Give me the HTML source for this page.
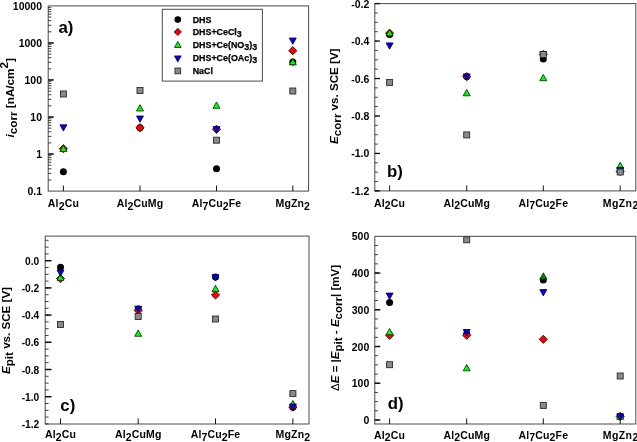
<!DOCTYPE html>
<html><head><meta charset="utf-8"><title>chart</title>
<style>
html,body{margin:0;padding:0;background:#fff;}
body{width:637px;height:442px;overflow:hidden;font-family:"Liberation Sans", sans-serif;}
svg{display:block;font-family:"Liberation Sans", sans-serif;will-change:transform;}
svg text{fill:#000;}
</style></head><body>
<svg width="637" height="442" viewBox="0 0 637 442">
<rect x="0" y="0" width="637" height="442" fill="#fff"/>
<rect x="48.2" y="5.9" width="260.40000000000003" height="185.2" fill="none" stroke="#4a4a4a" stroke-width="1"/>
<line x1="48.2" y1="179.95" x2="51.400000000000006" y2="179.95" stroke="#111" stroke-width="0.8"/>
<line x1="48.2" y1="173.43" x2="51.400000000000006" y2="173.43" stroke="#111" stroke-width="0.8"/>
<line x1="48.2" y1="168.80" x2="51.400000000000006" y2="168.80" stroke="#111" stroke-width="0.8"/>
<line x1="48.2" y1="165.21" x2="51.400000000000006" y2="165.21" stroke="#111" stroke-width="0.8"/>
<line x1="48.2" y1="162.28" x2="51.400000000000006" y2="162.28" stroke="#111" stroke-width="0.8"/>
<line x1="48.2" y1="159.80" x2="51.400000000000006" y2="159.80" stroke="#111" stroke-width="0.8"/>
<line x1="48.2" y1="157.65" x2="51.400000000000006" y2="157.65" stroke="#111" stroke-width="0.8"/>
<line x1="48.2" y1="155.75" x2="51.400000000000006" y2="155.75" stroke="#111" stroke-width="0.8"/>
<line x1="48.2" y1="142.91" x2="51.400000000000006" y2="142.91" stroke="#111" stroke-width="0.8"/>
<line x1="48.2" y1="136.39" x2="51.400000000000006" y2="136.39" stroke="#111" stroke-width="0.8"/>
<line x1="48.2" y1="131.76" x2="51.400000000000006" y2="131.76" stroke="#111" stroke-width="0.8"/>
<line x1="48.2" y1="128.17" x2="51.400000000000006" y2="128.17" stroke="#111" stroke-width="0.8"/>
<line x1="48.2" y1="125.24" x2="51.400000000000006" y2="125.24" stroke="#111" stroke-width="0.8"/>
<line x1="48.2" y1="122.76" x2="51.400000000000006" y2="122.76" stroke="#111" stroke-width="0.8"/>
<line x1="48.2" y1="120.61" x2="51.400000000000006" y2="120.61" stroke="#111" stroke-width="0.8"/>
<line x1="48.2" y1="118.71" x2="51.400000000000006" y2="118.71" stroke="#111" stroke-width="0.8"/>
<line x1="48.2" y1="105.87" x2="51.400000000000006" y2="105.87" stroke="#111" stroke-width="0.8"/>
<line x1="48.2" y1="99.35" x2="51.400000000000006" y2="99.35" stroke="#111" stroke-width="0.8"/>
<line x1="48.2" y1="94.72" x2="51.400000000000006" y2="94.72" stroke="#111" stroke-width="0.8"/>
<line x1="48.2" y1="91.13" x2="51.400000000000006" y2="91.13" stroke="#111" stroke-width="0.8"/>
<line x1="48.2" y1="88.20" x2="51.400000000000006" y2="88.20" stroke="#111" stroke-width="0.8"/>
<line x1="48.2" y1="85.72" x2="51.400000000000006" y2="85.72" stroke="#111" stroke-width="0.8"/>
<line x1="48.2" y1="83.57" x2="51.400000000000006" y2="83.57" stroke="#111" stroke-width="0.8"/>
<line x1="48.2" y1="81.67" x2="51.400000000000006" y2="81.67" stroke="#111" stroke-width="0.8"/>
<line x1="48.2" y1="68.83" x2="51.400000000000006" y2="68.83" stroke="#111" stroke-width="0.8"/>
<line x1="48.2" y1="62.31" x2="51.400000000000006" y2="62.31" stroke="#111" stroke-width="0.8"/>
<line x1="48.2" y1="57.68" x2="51.400000000000006" y2="57.68" stroke="#111" stroke-width="0.8"/>
<line x1="48.2" y1="54.09" x2="51.400000000000006" y2="54.09" stroke="#111" stroke-width="0.8"/>
<line x1="48.2" y1="51.16" x2="51.400000000000006" y2="51.16" stroke="#111" stroke-width="0.8"/>
<line x1="48.2" y1="48.68" x2="51.400000000000006" y2="48.68" stroke="#111" stroke-width="0.8"/>
<line x1="48.2" y1="46.53" x2="51.400000000000006" y2="46.53" stroke="#111" stroke-width="0.8"/>
<line x1="48.2" y1="44.63" x2="51.400000000000006" y2="44.63" stroke="#111" stroke-width="0.8"/>
<line x1="48.2" y1="31.79" x2="51.400000000000006" y2="31.79" stroke="#111" stroke-width="0.8"/>
<line x1="48.2" y1="25.27" x2="51.400000000000006" y2="25.27" stroke="#111" stroke-width="0.8"/>
<line x1="48.2" y1="20.64" x2="51.400000000000006" y2="20.64" stroke="#111" stroke-width="0.8"/>
<line x1="48.2" y1="17.05" x2="51.400000000000006" y2="17.05" stroke="#111" stroke-width="0.8"/>
<line x1="48.2" y1="14.12" x2="51.400000000000006" y2="14.12" stroke="#111" stroke-width="0.8"/>
<line x1="48.2" y1="11.64" x2="51.400000000000006" y2="11.64" stroke="#111" stroke-width="0.8"/>
<line x1="48.2" y1="9.49" x2="51.400000000000006" y2="9.49" stroke="#111" stroke-width="0.8"/>
<line x1="48.2" y1="7.59" x2="51.400000000000006" y2="7.59" stroke="#111" stroke-width="0.8"/>
<line x1="48.2" y1="154.06" x2="53.7" y2="154.06" stroke="#111" stroke-width="1.6"/>
<line x1="48.2" y1="117.02" x2="53.7" y2="117.02" stroke="#111" stroke-width="1.6"/>
<line x1="48.2" y1="79.98" x2="53.7" y2="79.98" stroke="#111" stroke-width="1.6"/>
<line x1="48.2" y1="42.94" x2="53.7" y2="42.94" stroke="#111" stroke-width="1.6"/>
<text x="42.0" y="9.90" text-anchor="end" font-size="10.5" font-weight="700">10000</text>
<text x="42.0" y="46.94" text-anchor="end" font-size="10.5" font-weight="700">1000</text>
<text x="42.0" y="83.98" text-anchor="end" font-size="10.5" font-weight="700">100</text>
<text x="42.0" y="121.02" text-anchor="end" font-size="10.5" font-weight="700">10</text>
<text x="42.0" y="158.06" text-anchor="end" font-size="10.5" font-weight="700">1</text>
<text x="42.0" y="195.10" text-anchor="end" font-size="10.5" font-weight="700">0.1</text>
<line x1="63.4" y1="185.6" x2="63.4" y2="191.1" stroke="#111" stroke-width="1"/>
<text x="63.4" y="207" text-anchor="middle" font-size="10.5" font-weight="700" letter-spacing="0.15"><tspan dy="0.0">Al</tspan><tspan dy="2.6">2</tspan><tspan dy="-2.6">Cu</tspan></text>
<line x1="140.0" y1="185.6" x2="140.0" y2="191.1" stroke="#111" stroke-width="1"/>
<text x="140.0" y="207" text-anchor="middle" font-size="10.5" font-weight="700" letter-spacing="0.15"><tspan dy="0.0">Al</tspan><tspan dy="2.6">2</tspan><tspan dy="-2.6">CuMg</tspan></text>
<line x1="216.5" y1="185.6" x2="216.5" y2="191.1" stroke="#111" stroke-width="1"/>
<text x="216.5" y="207" text-anchor="middle" font-size="10.5" font-weight="700" letter-spacing="0.15"><tspan dy="0.0">Al</tspan><tspan dy="2.6">7</tspan><tspan dy="-2.6">Cu</tspan><tspan dy="2.6">2</tspan><tspan dy="-2.6">Fe</tspan></text>
<line x1="292.8" y1="185.6" x2="292.8" y2="191.1" stroke="#111" stroke-width="1"/>
<text x="292.8" y="207" text-anchor="middle" font-size="10.5" font-weight="700" letter-spacing="0.15"><tspan dy="0.0">Mg</tspan><tspan dy="0.0">Zn</tspan><tspan dy="2.6">2</tspan></text>
<circle cx="63.4" cy="171.8" r="3.50" fill="#000"/>
<circle cx="140.0" cy="127.8" r="3.50" fill="#000"/>
<circle cx="216.5" cy="168.8" r="3.50" fill="#000"/>
<circle cx="292.8" cy="62.0" r="3.50" fill="#000"/>
<path d="M59.30 148.7L63.4 144.60L67.50 148.7L63.4 152.80Z" fill="#f00" stroke="#200" stroke-width="0.8"/>
<path d="M135.90 127.8L140.0 123.70L144.10 127.8L140.0 131.90Z" fill="#f00" stroke="#200" stroke-width="0.8"/>
<path d="M212.40 129.3L216.5 125.20L220.60 129.3L216.5 133.40Z" fill="#f00" stroke="#200" stroke-width="0.8"/>
<path d="M288.70 50.7L292.8 46.60L296.90 50.7L292.8 54.80Z" fill="#f00" stroke="#200" stroke-width="0.8"/>
<path d="M59.90 151.50L63.4 145.20L66.90 151.50Z" fill="#0f0" stroke="#020" stroke-width="0.8"/>
<path d="M136.50 111.00L140.0 104.70L143.50 111.00Z" fill="#0f0" stroke="#020" stroke-width="0.8"/>
<path d="M213.00 108.30L216.5 102.00L220.00 108.30Z" fill="#0f0" stroke="#020" stroke-width="0.8"/>
<path d="M289.30 64.80L292.8 58.50L296.30 64.80Z" fill="#0f0" stroke="#020" stroke-width="0.8"/>
<path d="M59.90 124.80L63.4 131.10L66.90 124.80Z" fill="#00f" stroke="#002" stroke-width="0.8"/>
<path d="M136.50 116.00L140.0 122.30L143.50 116.00Z" fill="#00f" stroke="#002" stroke-width="0.8"/>
<path d="M213.00 126.50L216.5 132.80L220.00 126.50Z" fill="#00f" stroke="#002" stroke-width="0.8"/>
<path d="M289.30 38.00L292.8 44.30L296.30 38.00Z" fill="#00f" stroke="#002" stroke-width="0.8"/>
<rect x="60.40" y="91.00" width="6.00" height="6.00" fill="#8a8a8a" stroke="#2a2a2a" stroke-width="0.9"/>
<rect x="137.00" y="87.50" width="6.00" height="6.00" fill="#8a8a8a" stroke="#2a2a2a" stroke-width="0.9"/>
<rect x="213.50" y="137.20" width="6.00" height="6.00" fill="#8a8a8a" stroke="#2a2a2a" stroke-width="0.9"/>
<rect x="289.80" y="88.00" width="6.00" height="6.00" fill="#8a8a8a" stroke="#2a2a2a" stroke-width="0.9"/>
<text x="58.5" y="32.5" font-size="16.8" font-weight="700">a)</text>
<rect x="162.3" y="9.3" width="100.1" height="71.8" fill="#fff" stroke="#4a4a4a" stroke-width="1"/>
<circle cx="177.8" cy="19.6" r="3.32" fill="#000"/>
<text x="192.7" y="22.8" font-size="8.9" font-weight="700" stroke="#000" stroke-width="0.25">DHS</text>
<path d="M174.19 31.9L177.8 28.29L181.41 31.9L177.8 35.51Z" fill="#f00" stroke="#200" stroke-width="0.8"/>
<text x="192.7" y="34.5" font-size="8.9" font-weight="700" stroke="#000" stroke-width="0.25">DHS+CeCl<tspan dy="2">3</tspan></text>
<path d="M174.48 47.46L177.8 41.47L181.12 47.46Z" fill="#0f0" stroke="#020" stroke-width="0.8"/>
<text x="192.7" y="47.8" font-size="8.9" font-weight="700" stroke="#000" stroke-width="0.25">DHS+Ce(NO<tspan dy="2">3</tspan><tspan dy="-2">)</tspan><tspan dy="2">3</tspan></text>
<path d="M174.48 55.94L177.8 61.93L181.12 55.94Z" fill="#00f" stroke="#002" stroke-width="0.8"/>
<text x="192.7" y="61.0" font-size="8.9" font-weight="700" stroke="#000" stroke-width="0.25">DHS+Ce(OAc)<tspan dy="2">3</tspan></text>
<rect x="174.95" y="68.05" width="5.70" height="5.70" fill="#8a8a8a" stroke="#2a2a2a" stroke-width="0.9"/>
<text x="192.7" y="74.0" font-size="8.9" font-weight="700" stroke="#000" stroke-width="0.25">NaCl</text>
<text transform="translate(13.9,137.4) rotate(-90)" font-size="11.7" font-weight="700"><tspan font-style="italic">i</tspan><tspan dy="3">corr</tspan><tspan dy="-3"> [nA/cm</tspan><tspan dy="-5.8">2</tspan><tspan dy="5.8">]</tspan></text>
<rect x="374.8" y="3.6" width="260.99999999999994" height="187.3" fill="none" stroke="#4a4a4a" stroke-width="1"/>
<line x1="374.8" y1="3.60" x2="377.8" y2="3.60" stroke="#111" stroke-width="0.8"/>
<line x1="374.8" y1="12.96" x2="377.8" y2="12.96" stroke="#111" stroke-width="0.8"/>
<line x1="374.8" y1="22.33" x2="377.8" y2="22.33" stroke="#111" stroke-width="0.8"/>
<line x1="374.8" y1="31.70" x2="377.8" y2="31.70" stroke="#111" stroke-width="0.8"/>
<line x1="374.8" y1="41.06" x2="377.8" y2="41.06" stroke="#111" stroke-width="0.8"/>
<line x1="374.8" y1="50.43" x2="377.8" y2="50.43" stroke="#111" stroke-width="0.8"/>
<line x1="374.8" y1="59.79" x2="377.8" y2="59.79" stroke="#111" stroke-width="0.8"/>
<line x1="374.8" y1="69.16" x2="377.8" y2="69.16" stroke="#111" stroke-width="0.8"/>
<line x1="374.8" y1="78.52" x2="377.8" y2="78.52" stroke="#111" stroke-width="0.8"/>
<line x1="374.8" y1="87.89" x2="377.8" y2="87.89" stroke="#111" stroke-width="0.8"/>
<line x1="374.8" y1="97.25" x2="377.8" y2="97.25" stroke="#111" stroke-width="0.8"/>
<line x1="374.8" y1="106.62" x2="377.8" y2="106.62" stroke="#111" stroke-width="0.8"/>
<line x1="374.8" y1="115.98" x2="377.8" y2="115.98" stroke="#111" stroke-width="0.8"/>
<line x1="374.8" y1="125.35" x2="377.8" y2="125.35" stroke="#111" stroke-width="0.8"/>
<line x1="374.8" y1="134.71" x2="377.8" y2="134.71" stroke="#111" stroke-width="0.8"/>
<line x1="374.8" y1="144.08" x2="377.8" y2="144.08" stroke="#111" stroke-width="0.8"/>
<line x1="374.8" y1="153.44" x2="377.8" y2="153.44" stroke="#111" stroke-width="0.8"/>
<line x1="374.8" y1="162.81" x2="377.8" y2="162.81" stroke="#111" stroke-width="0.8"/>
<line x1="374.8" y1="172.17" x2="377.8" y2="172.17" stroke="#111" stroke-width="0.8"/>
<line x1="374.8" y1="181.54" x2="377.8" y2="181.54" stroke="#111" stroke-width="0.8"/>
<line x1="374.8" y1="190.90" x2="377.8" y2="190.90" stroke="#111" stroke-width="0.8"/>
<line x1="374.8" y1="3.60" x2="380.0" y2="3.60" stroke="#111" stroke-width="1.3"/>
<line x1="374.8" y1="41.06" x2="380.0" y2="41.06" stroke="#111" stroke-width="1.3"/>
<line x1="374.8" y1="78.52" x2="380.0" y2="78.52" stroke="#111" stroke-width="1.3"/>
<line x1="374.8" y1="115.98" x2="380.0" y2="115.98" stroke="#111" stroke-width="1.3"/>
<line x1="374.8" y1="153.44" x2="380.0" y2="153.44" stroke="#111" stroke-width="1.3"/>
<line x1="374.8" y1="190.90" x2="380.0" y2="190.90" stroke="#111" stroke-width="1.3"/>
<text x="369.3" y="7.60" text-anchor="end" font-size="10.5" font-weight="700">-0.2</text>
<text x="369.3" y="45.06" text-anchor="end" font-size="10.5" font-weight="700">-0.4</text>
<text x="369.3" y="82.52" text-anchor="end" font-size="10.5" font-weight="700">-0.6</text>
<text x="369.3" y="119.98" text-anchor="end" font-size="10.5" font-weight="700">-0.8</text>
<text x="369.3" y="157.44" text-anchor="end" font-size="10.5" font-weight="700">-1.0</text>
<text x="369.3" y="194.90" text-anchor="end" font-size="10.5" font-weight="700">-1.2</text>
<line x1="389.6" y1="185.4" x2="389.6" y2="190.9" stroke="#111" stroke-width="1"/>
<text x="389.6" y="206.6" text-anchor="middle" font-size="10.5" font-weight="700" letter-spacing="0.15"><tspan dy="0.0">Al</tspan><tspan dy="2.6">2</tspan><tspan dy="-2.6">Cu</tspan></text>
<line x1="466.7" y1="185.4" x2="466.7" y2="190.9" stroke="#111" stroke-width="1"/>
<text x="466.7" y="206.6" text-anchor="middle" font-size="10.5" font-weight="700" letter-spacing="0.15"><tspan dy="0.0">Al</tspan><tspan dy="2.6">2</tspan><tspan dy="-2.6">CuMg</tspan></text>
<line x1="543.3" y1="185.4" x2="543.3" y2="190.9" stroke="#111" stroke-width="1"/>
<text x="543.3" y="206.6" text-anchor="middle" font-size="10.5" font-weight="700" letter-spacing="0.15"><tspan dy="0.0">Al</tspan><tspan dy="2.6">7</tspan><tspan dy="-2.6">Cu</tspan><tspan dy="2.6">2</tspan><tspan dy="-2.6">Fe</tspan></text>
<line x1="620.2" y1="185.4" x2="620.2" y2="190.9" stroke="#111" stroke-width="1"/>
<text x="620.7" y="206.6" text-anchor="middle" font-size="10.5" font-weight="700" letter-spacing="0.4"><tspan dy="0.0">Mg</tspan><tspan dy="0.0">Zn</tspan><tspan dy="2.6">2</tspan></text>
<circle cx="389.6" cy="34.4" r="3.50" fill="#000"/>
<circle cx="466.7" cy="76.6" r="3.50" fill="#000"/>
<circle cx="543.3" cy="59.0" r="3.50" fill="#000"/>
<circle cx="620.2" cy="171.5" r="3.50" fill="#000"/>
<path d="M385.50 33.2L389.6 29.10L393.70 33.2L389.6 37.30Z" fill="#f00" stroke="#200" stroke-width="0.8"/>
<path d="M462.60 76.6L466.7 72.50L470.80 76.6L466.7 80.70Z" fill="#f00" stroke="#200" stroke-width="0.8"/>
<path d="M539.20 54.5L543.3 50.40L547.40 54.5L543.3 58.60Z" fill="#f00" stroke="#200" stroke-width="0.8"/>
<path d="M616.10 171.5L620.2 167.40L624.30 171.5L620.2 175.60Z" fill="#f00" stroke="#200" stroke-width="0.8"/>
<path d="M386.10 35.80L389.6 29.50L393.10 35.80Z" fill="#0f0" stroke="#020" stroke-width="0.8"/>
<path d="M463.20 95.80L466.7 89.50L470.20 95.80Z" fill="#0f0" stroke="#020" stroke-width="0.8"/>
<path d="M539.80 80.70L543.3 74.40L546.80 80.70Z" fill="#0f0" stroke="#020" stroke-width="0.8"/>
<path d="M616.70 168.60L620.2 162.30L623.70 168.60Z" fill="#0f0" stroke="#020" stroke-width="0.8"/>
<path d="M386.10 42.90L389.6 49.20L393.10 42.90Z" fill="#00f" stroke="#002" stroke-width="0.8"/>
<path d="M463.20 74.00L466.7 80.30L470.20 74.00Z" fill="#00f" stroke="#002" stroke-width="0.8"/>
<path d="M539.80 51.70L543.3 58.00L546.80 51.70Z" fill="#00f" stroke="#002" stroke-width="0.8"/>
<path d="M616.70 167.50L620.2 173.80L623.70 167.50Z" fill="#00f" stroke="#002" stroke-width="0.8"/>
<rect x="386.60" y="79.40" width="6.00" height="6.00" fill="#8a8a8a" stroke="#2a2a2a" stroke-width="0.9"/>
<rect x="463.70" y="131.90" width="6.00" height="6.00" fill="#8a8a8a" stroke="#2a2a2a" stroke-width="0.9"/>
<rect x="540.30" y="51.50" width="6.00" height="6.00" fill="#8a8a8a" stroke="#2a2a2a" stroke-width="0.9"/>
<rect x="617.20" y="169.00" width="6.00" height="6.00" fill="#8a8a8a" stroke="#2a2a2a" stroke-width="0.9"/>
<text x="387" y="176.6" font-size="16.8" font-weight="700">b)</text>
<text transform="translate(338.3,143.9) rotate(-90)" font-size="11.6" font-weight="700"><tspan font-style="italic">E</tspan><tspan dy="3">corr</tspan><tspan dy="-3"> vs. SCE [V]</tspan></text>
<rect x="45.2" y="236.1" width="263.8" height="187.9" fill="none" stroke="#4a4a4a" stroke-width="1"/>
<line x1="45.2" y1="240.30" x2="48.6" y2="240.30" stroke="#111" stroke-width="0.8"/>
<line x1="45.2" y1="247.10" x2="48.6" y2="247.10" stroke="#111" stroke-width="0.8"/>
<line x1="45.2" y1="253.90" x2="48.6" y2="253.90" stroke="#111" stroke-width="0.8"/>
<line x1="45.2" y1="260.70" x2="48.6" y2="260.70" stroke="#111" stroke-width="0.8"/>
<line x1="45.2" y1="267.50" x2="48.6" y2="267.50" stroke="#111" stroke-width="0.8"/>
<line x1="45.2" y1="274.30" x2="48.6" y2="274.30" stroke="#111" stroke-width="0.8"/>
<line x1="45.2" y1="281.10" x2="48.6" y2="281.10" stroke="#111" stroke-width="0.8"/>
<line x1="45.2" y1="287.90" x2="48.6" y2="287.90" stroke="#111" stroke-width="0.8"/>
<line x1="45.2" y1="294.70" x2="48.6" y2="294.70" stroke="#111" stroke-width="0.8"/>
<line x1="45.2" y1="301.50" x2="48.6" y2="301.50" stroke="#111" stroke-width="0.8"/>
<line x1="45.2" y1="308.30" x2="48.6" y2="308.30" stroke="#111" stroke-width="0.8"/>
<line x1="45.2" y1="315.10" x2="48.6" y2="315.10" stroke="#111" stroke-width="0.8"/>
<line x1="45.2" y1="321.90" x2="48.6" y2="321.90" stroke="#111" stroke-width="0.8"/>
<line x1="45.2" y1="328.70" x2="48.6" y2="328.70" stroke="#111" stroke-width="0.8"/>
<line x1="45.2" y1="335.50" x2="48.6" y2="335.50" stroke="#111" stroke-width="0.8"/>
<line x1="45.2" y1="342.30" x2="48.6" y2="342.30" stroke="#111" stroke-width="0.8"/>
<line x1="45.2" y1="349.10" x2="48.6" y2="349.10" stroke="#111" stroke-width="0.8"/>
<line x1="45.2" y1="355.90" x2="48.6" y2="355.90" stroke="#111" stroke-width="0.8"/>
<line x1="45.2" y1="362.70" x2="48.6" y2="362.70" stroke="#111" stroke-width="0.8"/>
<line x1="45.2" y1="369.50" x2="48.6" y2="369.50" stroke="#111" stroke-width="0.8"/>
<line x1="45.2" y1="376.30" x2="48.6" y2="376.30" stroke="#111" stroke-width="0.8"/>
<line x1="45.2" y1="383.10" x2="48.6" y2="383.10" stroke="#111" stroke-width="0.8"/>
<line x1="45.2" y1="389.90" x2="48.6" y2="389.90" stroke="#111" stroke-width="0.8"/>
<line x1="45.2" y1="396.70" x2="48.6" y2="396.70" stroke="#111" stroke-width="0.8"/>
<line x1="45.2" y1="403.50" x2="48.6" y2="403.50" stroke="#111" stroke-width="0.8"/>
<line x1="45.2" y1="410.30" x2="48.6" y2="410.30" stroke="#111" stroke-width="0.8"/>
<line x1="45.2" y1="417.10" x2="48.6" y2="417.10" stroke="#111" stroke-width="0.8"/>
<line x1="45.2" y1="423.90" x2="48.6" y2="423.90" stroke="#111" stroke-width="0.8"/>
<line x1="45.2" y1="260.70" x2="51.5" y2="260.70" stroke="#111" stroke-width="1.5"/>
<line x1="45.2" y1="287.90" x2="51.5" y2="287.90" stroke="#111" stroke-width="1.5"/>
<line x1="45.2" y1="315.10" x2="51.5" y2="315.10" stroke="#111" stroke-width="1.5"/>
<line x1="45.2" y1="342.30" x2="51.5" y2="342.30" stroke="#111" stroke-width="1.5"/>
<line x1="45.2" y1="369.50" x2="51.5" y2="369.50" stroke="#111" stroke-width="1.5"/>
<line x1="45.2" y1="396.70" x2="51.5" y2="396.70" stroke="#111" stroke-width="1.5"/>
<text x="39.2" y="264.70" text-anchor="end" font-size="10.2" font-weight="700">0.0</text>
<text x="39.2" y="291.90" text-anchor="end" font-size="10.2" font-weight="700">-0.2</text>
<text x="39.2" y="319.10" text-anchor="end" font-size="10.2" font-weight="700">-0.4</text>
<text x="39.2" y="346.30" text-anchor="end" font-size="10.2" font-weight="700">-0.6</text>
<text x="39.2" y="373.50" text-anchor="end" font-size="10.2" font-weight="700">-0.8</text>
<text x="39.2" y="400.70" text-anchor="end" font-size="10.2" font-weight="700">-1.0</text>
<text x="39.2" y="427.90" text-anchor="end" font-size="10.2" font-weight="700">-1.2</text>
<line x1="60.5" y1="418.5" x2="60.5" y2="424" stroke="#111" stroke-width="1"/>
<text x="60.5" y="438" text-anchor="middle" font-size="10.5" font-weight="700" letter-spacing="0.15"><tspan dy="0.0">Al</tspan><tspan dy="2.6">2</tspan><tspan dy="-2.6">Cu</tspan></text>
<line x1="138.2" y1="418.5" x2="138.2" y2="424" stroke="#111" stroke-width="1"/>
<text x="138.2" y="438" text-anchor="middle" font-size="10.5" font-weight="700" letter-spacing="0.15"><tspan dy="0.0">Al</tspan><tspan dy="2.6">2</tspan><tspan dy="-2.6">CuMg</tspan></text>
<line x1="215.5" y1="418.5" x2="215.5" y2="424" stroke="#111" stroke-width="1"/>
<text x="215.5" y="438" text-anchor="middle" font-size="10.5" font-weight="700" letter-spacing="0.15"><tspan dy="0.0">Al</tspan><tspan dy="2.6">7</tspan><tspan dy="-2.6">Cu</tspan><tspan dy="2.6">2</tspan><tspan dy="-2.6">Fe</tspan></text>
<line x1="292.9" y1="418.5" x2="292.9" y2="424" stroke="#111" stroke-width="1"/>
<text x="292.9" y="438" text-anchor="middle" font-size="10.5" font-weight="700" letter-spacing="0.15"><tspan dy="0.0">Mg</tspan><tspan dy="0.0">Zn</tspan><tspan dy="2.6">2</tspan></text>
<circle cx="60.5" cy="267.2" r="3.50" fill="#000"/>
<circle cx="138.2" cy="309.0" r="3.50" fill="#000"/>
<circle cx="215.5" cy="277.1" r="3.50" fill="#000"/>
<circle cx="292.9" cy="407.3" r="3.50" fill="#000"/>
<path d="M56.40 278.6L60.5 274.50L64.60 278.6L60.5 282.70Z" fill="#f00" stroke="#200" stroke-width="0.8"/>
<path d="M134.10 310.4L138.2 306.30L142.30 310.4L138.2 314.50Z" fill="#f00" stroke="#200" stroke-width="0.8"/>
<path d="M211.40 295.0L215.5 290.90L219.60 295.0L215.5 299.10Z" fill="#f00" stroke="#200" stroke-width="0.8"/>
<path d="M288.80 407.1L292.9 403.00L297.00 407.1L292.9 411.20Z" fill="#f00" stroke="#200" stroke-width="0.8"/>
<path d="M57.00 280.30L60.5 274.00L64.00 280.30Z" fill="#0f0" stroke="#020" stroke-width="0.8"/>
<path d="M134.70 336.30L138.2 330.00L141.70 336.30Z" fill="#0f0" stroke="#020" stroke-width="0.8"/>
<path d="M212.00 291.60L215.5 285.30L219.00 291.60Z" fill="#0f0" stroke="#020" stroke-width="0.8"/>
<path d="M289.40 406.70L292.9 400.40L296.40 406.70Z" fill="#0f0" stroke="#020" stroke-width="0.8"/>
<path d="M57.00 270.00L60.5 276.30L64.00 270.00Z" fill="#00f" stroke="#002" stroke-width="0.8"/>
<path d="M134.70 306.20L138.2 312.50L141.70 306.20Z" fill="#00f" stroke="#002" stroke-width="0.8"/>
<path d="M212.00 274.80L215.5 281.10L219.00 274.80Z" fill="#00f" stroke="#002" stroke-width="0.8"/>
<path d="M289.40 404.00L292.9 410.30L296.40 404.00Z" fill="#00f" stroke="#002" stroke-width="0.8"/>
<rect x="57.50" y="321.50" width="6.00" height="6.00" fill="#8a8a8a" stroke="#2a2a2a" stroke-width="0.9"/>
<rect x="135.20" y="313.50" width="6.00" height="6.00" fill="#8a8a8a" stroke="#2a2a2a" stroke-width="0.9"/>
<rect x="212.50" y="316.00" width="6.00" height="6.00" fill="#8a8a8a" stroke="#2a2a2a" stroke-width="0.9"/>
<rect x="289.90" y="390.60" width="6.00" height="6.00" fill="#8a8a8a" stroke="#2a2a2a" stroke-width="0.9"/>
<text x="60.3" y="411.4" font-size="16.8" font-weight="700">c)</text>
<text transform="translate(9.6,374) rotate(-90)" font-size="11.6" font-weight="700"><tspan font-style="italic">E</tspan><tspan dy="3">pit</tspan><tspan dy="-3"> vs. SCE [V]</tspan></text>
<rect x="374.8" y="236.3" width="260.99999999999994" height="187.7" fill="none" stroke="#4a4a4a" stroke-width="1"/>
<line x1="374.8" y1="420.00" x2="378.0" y2="420.00" stroke="#111" stroke-width="0.8"/>
<line x1="374.8" y1="410.81" x2="378.0" y2="410.81" stroke="#111" stroke-width="0.8"/>
<line x1="374.8" y1="401.63" x2="378.0" y2="401.63" stroke="#111" stroke-width="0.8"/>
<line x1="374.8" y1="392.44" x2="378.0" y2="392.44" stroke="#111" stroke-width="0.8"/>
<line x1="374.8" y1="383.26" x2="378.0" y2="383.26" stroke="#111" stroke-width="0.8"/>
<line x1="374.8" y1="374.07" x2="378.0" y2="374.07" stroke="#111" stroke-width="0.8"/>
<line x1="374.8" y1="364.89" x2="378.0" y2="364.89" stroke="#111" stroke-width="0.8"/>
<line x1="374.8" y1="355.70" x2="378.0" y2="355.70" stroke="#111" stroke-width="0.8"/>
<line x1="374.8" y1="346.52" x2="378.0" y2="346.52" stroke="#111" stroke-width="0.8"/>
<line x1="374.8" y1="337.33" x2="378.0" y2="337.33" stroke="#111" stroke-width="0.8"/>
<line x1="374.8" y1="328.15" x2="378.0" y2="328.15" stroke="#111" stroke-width="0.8"/>
<line x1="374.8" y1="318.97" x2="378.0" y2="318.97" stroke="#111" stroke-width="0.8"/>
<line x1="374.8" y1="309.78" x2="378.0" y2="309.78" stroke="#111" stroke-width="0.8"/>
<line x1="374.8" y1="300.60" x2="378.0" y2="300.60" stroke="#111" stroke-width="0.8"/>
<line x1="374.8" y1="291.41" x2="378.0" y2="291.41" stroke="#111" stroke-width="0.8"/>
<line x1="374.8" y1="282.23" x2="378.0" y2="282.23" stroke="#111" stroke-width="0.8"/>
<line x1="374.8" y1="273.04" x2="378.0" y2="273.04" stroke="#111" stroke-width="0.8"/>
<line x1="374.8" y1="263.86" x2="378.0" y2="263.86" stroke="#111" stroke-width="0.8"/>
<line x1="374.8" y1="254.67" x2="378.0" y2="254.67" stroke="#111" stroke-width="0.8"/>
<line x1="374.8" y1="245.48" x2="378.0" y2="245.48" stroke="#111" stroke-width="0.8"/>
<line x1="374.8" y1="420.00" x2="380.3" y2="420.00" stroke="#111" stroke-width="1.5"/>
<line x1="374.8" y1="383.26" x2="380.3" y2="383.26" stroke="#111" stroke-width="1.5"/>
<line x1="374.8" y1="346.52" x2="380.3" y2="346.52" stroke="#111" stroke-width="1.5"/>
<line x1="374.8" y1="309.78" x2="380.3" y2="309.78" stroke="#111" stroke-width="1.5"/>
<line x1="374.8" y1="273.04" x2="380.3" y2="273.04" stroke="#111" stroke-width="1.5"/>
<text x="369.3" y="240.30" text-anchor="end" font-size="10.5" font-weight="700">500</text>
<text x="369.3" y="277.04" text-anchor="end" font-size="10.5" font-weight="700">400</text>
<text x="369.3" y="313.78" text-anchor="end" font-size="10.5" font-weight="700">300</text>
<text x="369.3" y="350.52" text-anchor="end" font-size="10.5" font-weight="700">200</text>
<text x="369.3" y="387.26" text-anchor="end" font-size="10.5" font-weight="700">100</text>
<text x="369.3" y="424.00" text-anchor="end" font-size="10.5" font-weight="700">0</text>
<line x1="389.6" y1="418.5" x2="389.6" y2="424" stroke="#111" stroke-width="1"/>
<text x="389.6" y="438.7" text-anchor="middle" font-size="10.5" font-weight="700" letter-spacing="0.15"><tspan dy="0.0">Al</tspan><tspan dy="2.6">2</tspan><tspan dy="-2.6">Cu</tspan></text>
<line x1="466.7" y1="418.5" x2="466.7" y2="424" stroke="#111" stroke-width="1"/>
<text x="466.7" y="438.7" text-anchor="middle" font-size="10.5" font-weight="700" letter-spacing="0.15"><tspan dy="0.0">Al</tspan><tspan dy="2.6">2</tspan><tspan dy="-2.6">CuMg</tspan></text>
<line x1="543.3" y1="418.5" x2="543.3" y2="424" stroke="#111" stroke-width="1"/>
<text x="543.3" y="438.7" text-anchor="middle" font-size="10.5" font-weight="700" letter-spacing="0.15"><tspan dy="0.0">Al</tspan><tspan dy="2.6">7</tspan><tspan dy="-2.6">Cu</tspan><tspan dy="2.6">2</tspan><tspan dy="-2.6">Fe</tspan></text>
<line x1="620.2" y1="418.5" x2="620.2" y2="424" stroke="#111" stroke-width="1"/>
<text x="620.7" y="438.7" text-anchor="middle" font-size="10.5" font-weight="700" letter-spacing="0.4"><tspan dy="0.0">Mg</tspan><tspan dy="0.0">Zn</tspan><tspan dy="2.6">2</tspan></text>
<circle cx="389.6" cy="302.4" r="3.50" fill="#000"/>
<circle cx="466.7" cy="333.9" r="3.50" fill="#000"/>
<circle cx="543.3" cy="280.0" r="3.50" fill="#000"/>
<circle cx="620.2" cy="416.4" r="3.50" fill="#000"/>
<path d="M385.50 335.3L389.6 331.20L393.70 335.3L389.6 339.40Z" fill="#f00" stroke="#200" stroke-width="0.8"/>
<path d="M462.60 335.3L466.7 331.20L470.80 335.3L466.7 339.40Z" fill="#f00" stroke="#200" stroke-width="0.8"/>
<path d="M539.20 339.3L543.3 335.20L547.40 339.3L543.3 343.40Z" fill="#f00" stroke="#200" stroke-width="0.8"/>
<path d="M616.10 416.4L620.2 412.30L624.30 416.4L620.2 420.50Z" fill="#f00" stroke="#200" stroke-width="0.8"/>
<path d="M386.10 334.80L389.6 328.50L393.10 334.80Z" fill="#0f0" stroke="#020" stroke-width="0.8"/>
<path d="M463.20 370.80L466.7 364.50L470.20 370.80Z" fill="#0f0" stroke="#020" stroke-width="0.8"/>
<path d="M539.80 279.10L543.3 272.80L546.80 279.10Z" fill="#008a00" stroke="#020" stroke-width="0.8"/>
<path d="M616.70 419.20L620.2 412.90L623.70 419.20Z" fill="#0f0" stroke="#020" stroke-width="0.8"/>
<path d="M386.10 293.10L389.6 299.40L393.10 293.10Z" fill="#00f" stroke="#002" stroke-width="0.8"/>
<path d="M463.20 329.50L466.7 335.80L470.20 329.50Z" fill="#00f" stroke="#002" stroke-width="0.8"/>
<path d="M539.80 289.60L543.3 295.90L546.80 289.60Z" fill="#00f" stroke="#002" stroke-width="0.8"/>
<path d="M616.70 413.80L620.2 420.10L623.70 413.80Z" fill="#00f" stroke="#002" stroke-width="0.8"/>
<rect x="386.60" y="361.70" width="6.00" height="6.00" fill="#8a8a8a" stroke="#2a2a2a" stroke-width="0.9"/>
<rect x="463.70" y="236.80" width="6.00" height="6.00" fill="#8a8a8a" stroke="#2a2a2a" stroke-width="0.9"/>
<rect x="540.30" y="402.40" width="6.00" height="6.00" fill="#8a8a8a" stroke="#2a2a2a" stroke-width="0.9"/>
<rect x="617.20" y="373.00" width="6.00" height="6.00" fill="#8a8a8a" stroke="#2a2a2a" stroke-width="0.9"/>
<text x="387.8" y="408.9" font-size="16.8" font-weight="700">d)</text>
<text transform="translate(338.8,391) rotate(-90)" font-size="11.55" font-weight="700"><tspan font-weight="400">Δ</tspan><tspan font-style="italic">E</tspan> = |<tspan font-style="italic">E</tspan><tspan dy="3">pit</tspan><tspan dy="-3"> - </tspan><tspan font-style="italic">E</tspan><tspan dy="3">corr</tspan><tspan dy="-3">| [mV]</tspan></text>
</svg>
</body></html>
